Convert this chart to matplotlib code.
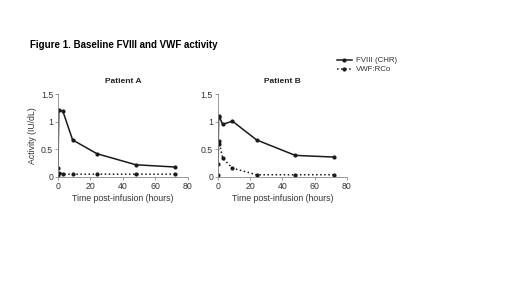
import numpy as np
import matplotlib.pyplot as plt

plt.rcParams['font.family'] = ['Liberation Sans', 'DejaVu Sans']

time_a = [0, 0.5, 3, 9, 24, 48, 72]
fviii_a = [0.16, 1.21, 1.19, 0.67, 0.42, 0.22, 0.18]
vwf_a = [0.04, 0.08, 0.05, 0.05, 0.05, 0.05, 0.05]

time_b = [0, 0.5, 1, 3, 9, 24, 48, 72]
fviii_b = [0.23, 1.10, 1.08, 0.95, 1.01, 0.67, 0.39, 0.36]
vwf_b = [0.04, 0.65, 0.60, 0.34, 0.16, 0.04, 0.04, 0.04]

patients = ['Patient A', 'Patient B']

fig = plt.figure(figsize=(5.2, 2.92), dpi=100)
fig.text(0.058, 0.835, 'Figure 1. Baseline FVIII and VWF activity',
         fontsize=7, fontweight='bold')

ax1 = fig.add_axes([0.1115, 0.394, 0.25, 0.284])
ax2 = fig.add_axes([0.419, 0.394, 0.248, 0.284])

txt = '#333333'
data = [(time_a, fviii_a, vwf_a), (time_b, fviii_b, vwf_b)]
for ax, name, (t, f, v) in zip([ax1, ax2], patients, data):
    l1, = ax.plot(t, f, '-', color='#1a1a1a', lw=1.1, marker='o', ms=2, label='FVIII (CHR)')
    l2, = ax.plot(t, v, ':', color='#1a1a1a', lw=1.1, marker='o', ms=2, label='VWF:RCo')
    ax.set_xlim(0, 80)
    ax.set_ylim(0, 1.5)
    ax.set_xticks([0, 20, 40, 60, 80])
    ax.set_yticks([0, 0.5, 1, 1.5])
    ax.set_yticklabels(['0', '0.5', '1', '1.5'])
    ax.spines['top'].set_visible(False)
    ax.spines['right'].set_visible(False)
    ax.spines['left'].set_color('#888888')
    ax.spines['bottom'].set_color('#888888')
    ax.spines['left'].set_linewidth(0.6)
    ax.spines['bottom'].set_linewidth(0.6)
    ax.tick_params(labelsize=6.3, length=2, width=0.6, color='#888888',
                   labelcolor=txt, pad=1.5)
    ax.set_title(name, fontsize=6, fontweight='bold', pad=8, color='#222222')
    ax.set_xlabel('Time post-infusion (hours)', fontsize=6.3, labelpad=2, color=txt)

ax1.set_ylabel('Activity (IU/dL)', fontsize=6.3, labelpad=3, color=txt)

fig.legend([l1, l2], ['FVIII (CHR)', 'VWF:RCo'], loc='upper left',
           bbox_to_anchor=(0.635, 0.83), fontsize=5.7, frameon=False,
           handlelength=1.8, handletextpad=0.5, labelspacing=0.2,
           labelcolor=txt)

fig.savefig('out.png', dpi=100)
